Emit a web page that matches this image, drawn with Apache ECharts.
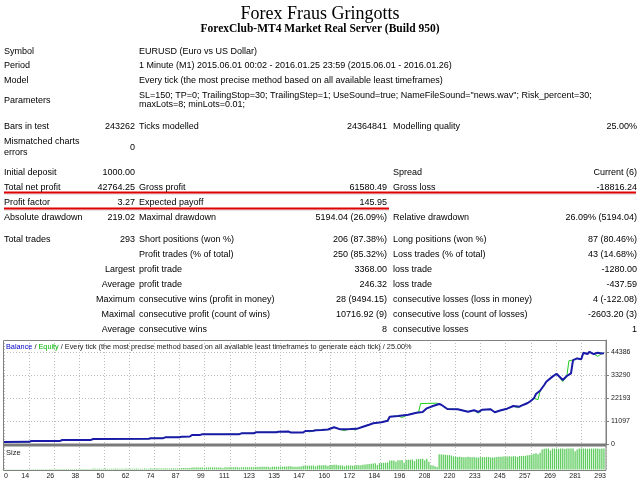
<!DOCTYPE html>
<html>
<head>
<meta charset="utf-8">
<script src="https://cdn.jsdelivr.net/npm/echarts@6/dist/echarts.min.js"></script>
<style>html,body{margin:0;padding:0;background:#fff;}#c{width:640px;height:480px;}</style>
</head>
<body>
<div id="c"></div>
<script>
// ---------------- data ----------------
const titleText = 'Forex Fraus Gringotts';
const subtitleText = 'ForexClub-MT4 Market Real Server (Build 950)';
const infoLabels = ['Symbol', 'Period', 'Model', 'Parameters'];
const infoValues = [
  'EURUSD (Euro vs US Dollar)',
  '1 Minute (M1) 2015.06.01 00:02 - 2016.01.25 23:59 (2015.06.01 - 2016.01.26)',
  'Every tick (the most precise method based on all available least timeframes)'
];
const paramLines = [
  'SL=150; TP=0; TrailingStop=30; TrailingStep=1; UseSound=true; NameFileSound="news.wav"; Risk_percent=30;',
  'maxLots=8; minLots=0.01;'
];
const statRows = [
  ['Bars in test', '243262', 'Ticks modelled', '24364841', 'Modelling quality', '25.00%'],
  ['Mismatched charts\nerrors', '0', '', '', '', ''],
  ['Initial deposit', '1000.00', '', '', 'Spread', 'Current (6)'],
  ['Total net profit', '42764.25', 'Gross profit', '61580.49', 'Gross loss', '-18816.24'],
  ['Profit factor', '3.27', 'Expected payoff', '145.95', '', ''],
  ['Absolute drawdown', '219.02', 'Maximal drawdown', '5194.04 (26.09%)', 'Relative drawdown', '26.09% (5194.04)'],
  ['Total trades', '293', 'Short positions (won %)', '206 (87.38%)', 'Long positions (won %)', '87 (80.46%)'],
  ['', '', 'Profit trades (% of total)', '250 (85.32%)', 'Loss trades (% of total)', '43 (14.68%)'],
  ['', 'Largest', 'profit trade', '3368.00', 'loss trade', '-1280.00'],
  ['', 'Average', 'profit trade', '246.32', 'loss trade', '-437.59'],
  ['', 'Maximum', 'consecutive wins (profit in money)', '28 (9494.15)', 'consecutive losses (loss in money)', '4 (-122.08)'],
  ['', 'Maximal', 'consecutive profit (count of wins)', '10716.92 (9)', 'consecutive loss (count of losses)', '-2603.20 (3)'],
  ['', 'Average', 'consecutive wins', '8', 'consecutive losses', '1']
];
const legendParts = ['Balance', 'Equity', 'Every tick (the most precise method based on all available least timeframes to generate each tick)', '25.00%'];
const sizeLabel = 'Size';

const xTickLabels = ['0','14','26','38','50','62','74','87','99','111','123','135','147','160','172','184','196','208','220','233','245','257','269','281','293'];
const yTickLabels = ['0','11097','22193','33290','44386'];

const balanceTrade = [0,14,15,29,30,44,45,72,73,79,80,87,88,92,93,97,98,116,117,123,124,134,135,140,141,147,148,152,153,156,159,162,165,168,170,173,176,179,181,185,188,189,193,198,202,205,207,210,213,214,217,222,225,227,230,232,234,238,240,243,246,249,252,254,256,257,259,260,262,264,265,268,270,273,275,277,278,280,282,283,285,286,288,290,292,293];
const balanceValue = [1000,1050,1450,1500,1930,1980,2410,2500,2730,2800,3200,3250,3540,3600,4340,4400,4660,4750,5140,5200,5630,5700,5950,6000,5500,5550,6270,6350,6600,6750,7000,8050,7070,7150,7200,7300,8350,9300,9980,10460,11250,13170,13500,14130,15100,15440,17200,18330,19300,18960,16890,16740,16070,15590,16260,15440,16550,16740,15300,16260,17040,18330,18000,18960,19780,20400,22040,24100,25700,28470,30050,32500,33900,30900,32800,34100,40500,41300,40900,44050,43400,44500,43400,44050,43700,43764.25];

const equityTrade = [0,14,15,29,30,44,45,72,73,79,80,87,88,92,93,97,98,116,117,123,124,134,135,140,141,147,148,150,152,153,156,159,162,165,167,169,171,172,173,176,178,179,181,185,188,189,193,195,198,202,203,204,212,213,214,217,222,225,227,230,232,234,238,240,243,246,249,251,252,254,256,257,259,261,262,264,265,268,270,273,275,276,278,280,282,283,285,286,288,290,292,293];
const equityValue = [1000,1050,1450,1500,1930,1980,2410,2500,2730,2800,3200,3250,3540,3600,4340,4400,4660,4750,5140,5200,5630,5700,5950,6000,5500,5550,6270,5850,6350,6600,6750,7000,8050,7070,6450,7150,7200,6750,7300,8350,9100,9300,9980,10460,11250,13170,13500,12800,14130,15100,15350,19500,19700,19300,18960,16890,16740,16070,15590,16260,14900,16550,16740,15300,16260,17040,18330,17500,18000,18960,19780,20400,22040,21400,25700,28470,30050,32500,33900,30100,32800,40200,40500,41300,40900,44050,43400,44500,43400,42300,43700,43764.25];

// lot size per trade, trades 1..293
const sizeLots = [
  0.10,0.10,0.11,0.10,0.10,0.11,0.10,0.10,0.11,0.10,0.11,0.10,0.11,0.11,
  0.14,0.14,0.15,0.14,0.14,0.15,0.14,0.15,0.14,0.15,0.15,0.14,0.15,0.15,0.15,
  0.19,0.19,0.20,0.19,0.20,0.19,0.20,0.20,0.19,0.20,0.20,0.21,0.20,0.21,0.21,
  0.40,0.25,0.25,0.26,0.25,0.26,0.40,0.26,0.26,0.26,0.27,0.40,0.26,0.27,0.27,0.27,0.40,0.27,0.27,0.28,0.28,0.40,0.28,0.28,0.28,0.40,0.28,0.29,
  0.45,0.35,0.35,0.45,0.35,0.36,0.36,0.45,0.40,0.40,0.40,0.45,0.40,0.41,0.41,
  0.60,0.60,0.62,0.62,0.62,0.75,0.75,0.75,0.76,0.78,0.78,0.60,0.78,0.79,0.79,0.80,0.80,
  0.80,0.81,0.81,0.60,0.82,0.82,0.83,0.83,0.84,0.84,0.85,0.70,0.85,0.86,0.86,0.87,0.87,0.88,0.88,
  1.00,1.00,1.02,1.02,1.04,1.04,1.05,0.80,1.06,1.07,1.07,1.08,1.10,1.10,
  1.15,1.16,1.20,1.20,1.05,1.08,1.08,1.10,1.10,1.45,1.45,1.47,1.47,1.50,1.52,1.20,1.55,1.58,
  1.60,1.62,1.65,1.30,1.70,1.75,1.80,1.85,1.60,1.55,1.55,
  1.20,1.55,1.55,1.56,1.40,1.57,1.58,1.58,1.60,1.80,1.90,2.00,
  2.10,2.20,2.30,2.40,1.70,2.45,2.50,
  2.55,2.60,2.70,3.40,3.40,3.45,3.00,3.50,3.55,3.60,2.60,3.65,
  3.70,3.75,3.85,3.20,3.90,4.00,4.05,4.10,3.50,
  4.10,3.00,1.60,1.50,1.20,1.00,
  5.80,5.70,5.70,5.60,5.50,5.50,5.30,
  5.00,4.90,4.80,4.90,4.80,4.70,4.70,4.90,4.80,4.70,4.75,4.60,4.55,4.70,4.80,4.70,4.75,4.80,4.60,4.55,4.70,4.80,4.85,4.90,4.95,4.95,5.00,5.05,5.00,5.10,5.10,4.80,5.15,5.20,5.20,
  5.30,5.40,5.50,5.70,6.00,6.20,5.80,6.40,
  7.60,7.90,8.00,8.00,7.30,8.00,8.00,8.00,7.90,8.00,8.00,7.80,8.00,8.00,8.00,8.00,7.00,7.60,8.00,8.00,8.00,8.00,7.90,8.00,8.00,8.00,8.00,8.00,7.80,8.00,8.00
];

// ---------------- layout ----------------
const FONT = '"Liberation Sans", Arial, sans-serif';
const F9 = '9px ' + FONT;
function T(x, y, text, align, extra) {
  return { type: 'text', x: x, y: y, silent: true, z: 50,
    style: Object.assign({ text: text, font: F9, fill: '#000', align: align || 'left', verticalAlign: 'middle' }, extra || {}) };
}
const colA = 4, colB = 135, colC = 139, colD = 387, colE = 393, colF = 637;
const g = [];
g.push(T(320, 14, titleText, 'center', { font: '18px "Liberation Serif", "Times New Roman", serif' }));
g.push(T(320, 29, subtitleText, 'center', { font: 'bold 11.5px "Liberation Serif", "Times New Roman", serif' }));
const infoY = [52, 66, 81, 100.5];
infoLabels.forEach((l, i) => g.push(T(colA, infoY[i], l)));
infoValues.forEach((v, i) => g.push(T(colC, infoY[i], v)));
g.push(T(colC, 96, paramLines[0]));
g.push(T(colC, 105, paramLines[1]));
const rowY = [127, 147.5, 173, 188, 203, 218, 240, 255, 270, 285, 300, 315, 330];
statRows.forEach((r, i) => {
  const y = rowY[i];
  if (r[0]) g.push(T(colA, y, r[0], 'left', { lineHeight: 11 }));
  if (r[1]) g.push(T(colB, y, r[1], 'right'));
  if (r[2]) g.push(T(colC, y, r[2]));
  if (r[3]) g.push(T(colD, y, r[3], 'right'));
  if (r[4]) g.push(T(colE, y, r[4]));
  if (r[5]) g.push(T(colF, y, r[5], 'right'));
});
// red highlight lines
g.push({ type: 'line', silent: true, z: 40, shape: { x1: 4, y1: 194, x2: 636, y2: 194 }, style: { stroke: '#d0d0d0', lineWidth: 1 } });
g.push({ type: 'line', silent: true, z: 41, shape: { x1: 4, y1: 192.5, x2: 636, y2: 192.5 }, style: { stroke: '#e00000', lineWidth: 2 } });
g.push({ type: 'line', silent: true, z: 40, shape: { x1: 4, y1: 210, x2: 389, y2: 210 }, style: { stroke: '#d0d0d0', lineWidth: 1 } });
g.push({ type: 'line', silent: true, z: 41, shape: { x1: 4, y1: 208.5, x2: 389, y2: 208.5 }, style: { stroke: '#e00000', lineWidth: 2 } });
// chart frame
g.push({ type: 'rect', silent: true, z: 60, shape: { x: 3.5, y: 340.5, width: 602.5, height: 130 }, style: { stroke: '#808080', fill: 'none', lineWidth: 1 } });
g.push({ type: 'rect', silent: true, z: 60, shape: { x: 3, y: 443.5, width: 603.5, height: 3 }, style: { fill: '#7a7a7a' } });
g.push({ type: 'text', silent: true, z: 61, x: 6, y: 347,
  style: { text: '{b|' + legendParts[0] + '} / {e|' + legendParts[1] + '} / ' + legendParts[2] + ' / ' + legendParts[3],
    fontSize: 7.3, fontFamily: FONT, fill: '#202020', verticalAlign: 'middle',
    rich: { b: { fill: '#0000c8', fontSize: 7.3, fontFamily: FONT }, e: { fill: '#00b400', fontSize: 7.3, fontFamily: FONT } } } });
g.push(T(6, 453, sizeLabel, 'left', { font: '7.5px ' + FONT, fill: '#202020', z: 61 }));

// ---------------- chart ----------------
const chart = echarts.init(document.getElementById('c'), null, { width: 640, height: 480 });
const dotted = { show: true, interval: 0, lineStyle: { color: '#bdbdbd', type: [1, 2], width: 1 } };
const catData = xTickLabels.map((l, i) => i === 0 ? { value: l, textStyle: { align: 'left' } } : l);
chart.setOption({
  animation: false,
  backgroundColor: '#fff',
  grid: [
    { left: 4, right: 34, top: 340, height: 104 },
    { left: 4, right: 34, top: 447, height: 22.5 }
  ],
  xAxis: [
    { type: 'value', gridIndex: 0, position: 'top', min: 1.73, max: 294, show: false },
    { type: 'value', gridIndex: 1, position: 'top', min: 1.73, max: 294, show: false },
    { type: 'category', gridIndex: 0, position: 'bottom', data: xTickLabels, boundaryGap: false, axisLine: { show: false }, axisTick: { show: false }, axisLabel: { show: false }, splitLine: dotted },
    { type: 'category', gridIndex: 1, position: 'bottom', data: catData, boundaryGap: false, axisLine: { show: false }, axisTick: { show: false },
      axisLabel: { interval: 0, fontSize: 7, fontFamily: FONT, color: '#202020', align: 'right', margin: 3 }, splitLine: dotted }
  ],
  yAxis: [
    { type: 'value', gridIndex: 0, position: 'right', min: 0, max: 50175, interval: 11096.5,
      axisLine: { show: true, lineStyle: { color: '#808080' } },
      axisTick: { show: true, length: 3, lineStyle: { color: '#808080' } },
      axisLabel: { fontSize: 7, fontFamily: FONT, color: '#202020', margin: 5, showMaxLabel: false,
        formatter: (v, i) => (yTickLabels[i] !== undefined ? yTickLabels[i] : '') },
      splitLine: { show: true, lineStyle: { color: '#bdbdbd', type: [1, 2], width: 1 } } },
    { type: 'value', gridIndex: 1, position: 'right', min: 0, max: 8.6, show: false }
  ],
  graphic: g,
  series: [
    { type: 'bar', xAxisIndex: 1, yAxisIndex: 1, barWidth: 1.3, data: sizeLots.map((v, i) => [i + 1, v]),
      itemStyle: { color: '#5fcc5f' }, silent: true },
    { type: 'line', xAxisIndex: 0, yAxisIndex: 0, showSymbol: false, z: 2, data: equityTrade.map((t, i) => [t, equityValue[i]]),
      lineStyle: { color: '#22cc22', width: 1 }, silent: true },
    { type: 'line', xAxisIndex: 0, yAxisIndex: 0, showSymbol: false, z: 3, data: balanceTrade.map((t, i) => [t, balanceValue[i]]),
      lineStyle: { color: '#1a1aa8', width: 2 }, silent: true }
  ]
});
</script>
</body>
</html>
